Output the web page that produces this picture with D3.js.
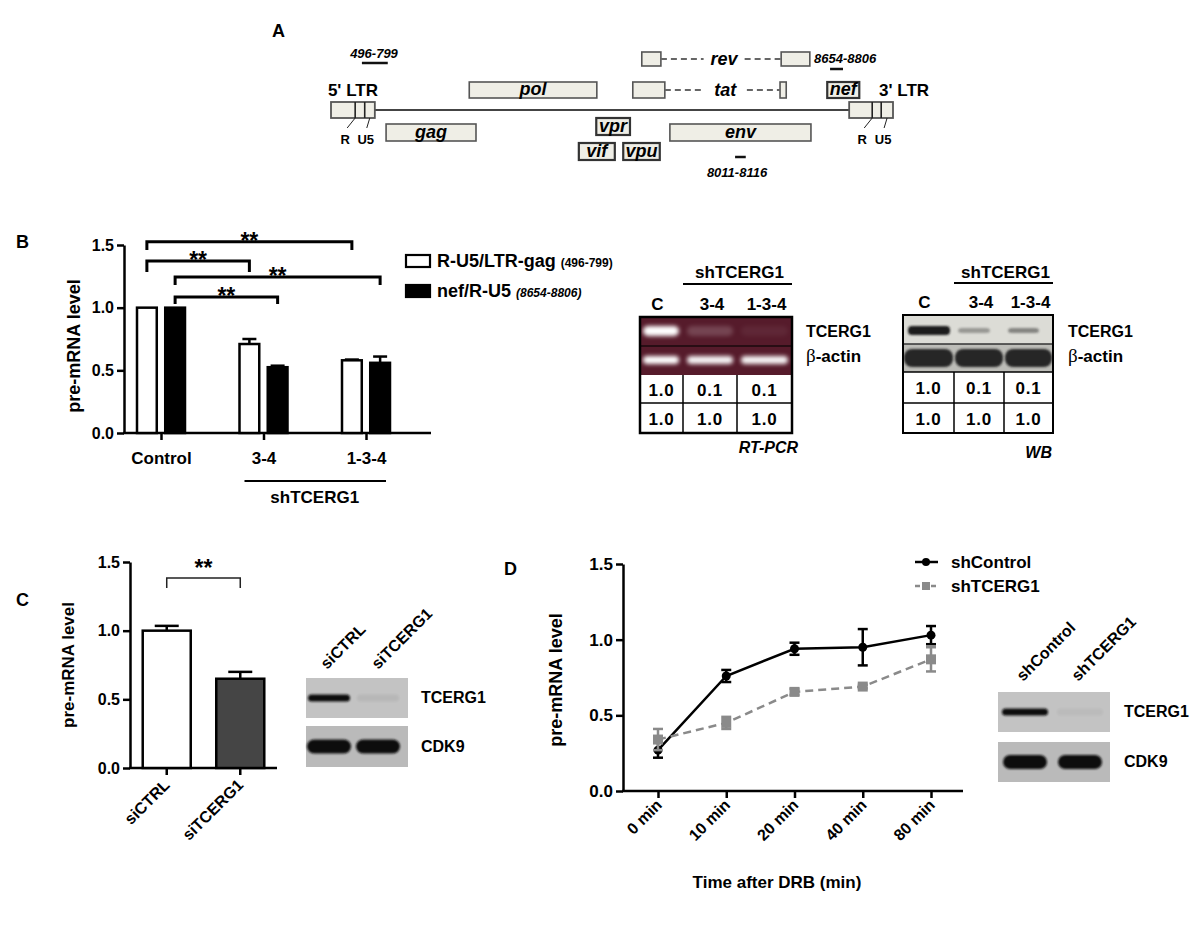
<!DOCTYPE html>
<html><head><meta charset="utf-8">
<script src="https://cdnjs.cloudflare.com/ajax/libs/d3/7.8.5/d3.min.js"></script>
<style>
body{margin:0;background:#fff}
svg{font-family:"Liberation Sans",Arial,Helvetica,sans-serif;font-weight:bold}
</style></head><body>
<svg id="fig" width="1200" height="925"></svg>
<script>
// ================= DATA =================
// Panel A: HIV genome map (schematic units 0-100)
const ltrStart = [0, 92.2], ltrEnd = [7.8, 100], ltrDiv = [[4.3, 6.0], [96.3, 97.9]];
const ltrNames = ["5' LTR", "3' LTR"];
const geneNames = ["gag", "pol", "vif", "vpr", "vpu", "env", "nef"];
const geneStart = [9.8, 24.6, 44.1, 47.2, 52.0, 60.3, 88.3];
const geneEnd   = [25.8, 47.3, 50.5, 53.2, 58.5, 85.4, 94.0];
const geneRows  = ["lower", "upper", "bottom", "vpr", "bottom", "lower", "upper"];
const splicedNames = ["rev", "tat"];
const splicedExons = [[[55.3, 58.7], [80.1, 85.2]], [[53.7, 59.4], [79.9, 81.0]]];
const splicedGap = [[66.3, 73.6], [66.3, 74.0]];
const probeLabels = ["496-799", "8654-8806", "8011-8116"];
const probeStart = [5.5, 88.8, 71.9];
const probeEnd = [10.1, 91.1, 73.8];

// Panel B: bar chart
const bCats = ["Control", "3-4", "1-3-4"];
const bSeries = ["R-U5/LTR-gag", "nef/R-U5"];
const bGag = [1.0, 0.71, 0.58], bGagErr = [0.0, 0.04, 0.006];
const bNef = [1.0, 0.525, 0.56], bNefErr = [0.0, 0.012, 0.05];
const yTicks = [0, 0.5, 1.0, 1.5];
// significance brackets: [catA, seriesA, catB, seriesB, top, leg]
const bSig = [[0, 0, 2, 0, 1.525, 1.46], [0, 0, 1, 0, 1.372, 1.285], [0, 1, 2, 1, 1.245, 1.18], [0, 1, 1, 1, 1.085, 1.03]];

// Panel B: RT-PCR and WB
const laneLabels = ["C", "3-4", "1-3-4"];
const rtTable = [["1.0", "0.1", "0.1"], ["1.0", "1.0", "1.0"]];
const wbTable = [["1.0", "0.1", "0.1"], ["1.0", "1.0", "1.0"]];
const rtTopBand = [1.0, 0.18, 0.05], rtBotBand = [1.0, 0.95, 0.95];
const wbTopBand = [1.0, 0.35, 0.45], wbBotBand = [1.0, 1.0, 1.0];

// Panel C
const cCats = ["siCTRL", "siTCERG1"];
const cVals = [1.0, 0.65], cErr = [0.035, 0.05];
const cBlotTop = [1.0, 0.06], cBlotBot = [1.0, 1.0];

// Panel D
const dTimes = ["0 min", "10 min", "20 min", "40 min", "80 min"];
const dCtrl = [0.27, 0.76, 0.94, 0.95, 1.03], dCtrlErr = [0.05, 0.04, 0.04, 0.12, 0.06];
const dTc = [0.34, 0.45, 0.655, 0.69, 0.87], dTcErr = [0.07, 0.04, 0.02, 0.012, 0.08];
const dLanes = ["shControl", "shTCERG1"];
const dBlotTop = [1.0, 0.04], dBlotBot = [1.0, 1.0];

// ================= DRAW =================
const svg = d3.select("#fig");
const defs = svg.append("defs");
function blurF(id, s) {
  defs.append("filter").attr("id", id).attr("x", "-50%").attr("y", "-200%").attr("width", "200%").attr("height", "500%")
    .append("feGaussianBlur").attr("stdDeviation", s);
}
blurF("blur2", 2); blurF("blur1", 1.2); blurF("blur3", 3);

function text(g, x, y, s, size, opts = {}) {
  const t = g.append("text").attr("x", x).attr("y", y).attr("font-size", size).text(s);
  if (opts.anchor) t.attr("text-anchor", opts.anchor);
  if (opts.italic) t.attr("font-style", "italic");
  if (opts.fill) t.attr("fill", opts.fill);
  if (opts.transform) t.attr("transform", opts.transform);
  return t;
}

// panel letters
text(svg, 272, 37, "A", 18);
text(svg, 16, 248, "B", 18);
text(svg, 16, 606, "C", 18);
text(svg, 504, 575, "D", 18);

// ---------- Panel A ----------
const gA = svg.append("g");
const mx = d3.scaleLinear().domain([0, 100]).range([331, 893]);
const rowY = { rev: [52, 66], upper: [82, 98], ltr: [102, 118], lower: [124, 141], vpr: [118, 135], bottom: [143, 160] };
const boxFill = "#efeee6", boxStroke = "#555";
// backbone
gA.append("line").attr("x1", mx(ltrEnd[0])).attr("x2", mx(ltrStart[1])).attr("y1", 110).attr("y2", 110)
  .attr("stroke", "#444").attr("stroke-width", 2);
// LTRs
ltrNames.forEach((n, i) => {
  gA.append("rect").attr("x", mx(ltrStart[i])).attr("y", rowY.ltr[0]).attr("width", mx(ltrEnd[i]) - mx(ltrStart[i]))
    .attr("height", rowY.ltr[1] - rowY.ltr[0]).attr("fill", boxFill).attr("stroke", boxStroke).attr("stroke-width", 1.8);
  ltrDiv[i].forEach(d => gA.append("line").attr("x1", mx(d)).attr("x2", mx(d)).attr("y1", rowY.ltr[0]).attr("y2", rowY.ltr[1])
    .attr("stroke", "#222").attr("stroke-width", 1.6));
  text(gA, (mx(ltrStart[i]) + mx(ltrEnd[i])) / 2 + (i === 0 ? 0 : 33), 96, n, 17, { anchor: "middle" });
  // R U5 pointers
  const d0 = mx(ltrDiv[i][0]), d1 = (mx(ltrDiv[i][1]) + mx(ltrEnd[i])) / 2;
  gA.append("line").attr("x1", d0).attr("y1", 118).attr("x2", d0 - 8).attr("y2", 128).attr("stroke", "#222").attr("stroke-width", 1);
  gA.append("line").attr("x1", d1).attr("y1", 118).attr("x2", d1 - 3).attr("y2", 128).attr("stroke", "#222").attr("stroke-width", 1);
  text(gA, d0 - 10, 144, "R", 13, { anchor: "middle" });
  text(gA, d1 - 4, 144, "U5", 13, { anchor: "middle" });
});
// genes
geneNames.forEach((n, i) => {
  const r = rowY[geneRows[i]];
  const small = (mx(geneEnd[i]) - mx(geneStart[i])) < 45;
  gA.append("rect").attr("x", mx(geneStart[i])).attr("y", r[0]).attr("width", mx(geneEnd[i]) - mx(geneStart[i]))
    .attr("height", r[1] - r[0]).attr("fill", boxFill).attr("stroke", small ? "#333" : boxStroke).attr("stroke-width", small ? 2.2 : 1.6);
  text(gA, (mx(geneStart[i]) + mx(geneEnd[i])) / 2, r[1] - 3, n, 18, { anchor: "middle", italic: true });
});
// spliced genes
splicedNames.forEach((n, i) => {
  const r = i === 0 ? rowY.rev : rowY.upper;
  const ym = (r[0] + r[1]) / 2;
  const ex = splicedExons[i];
  ex.forEach(e => gA.append("rect").attr("x", mx(e[0])).attr("y", r[0]).attr("width", mx(e[1]) - mx(e[0]))
    .attr("height", r[1] - r[0]).attr("fill", boxFill).attr("stroke", boxStroke).attr("stroke-width", 1.6));
  const gp = splicedGap[i];
  [[ex[0][1], gp[0]], [gp[1], ex[1][0]]].forEach(s => gA.append("line").attr("x1", mx(s[0])).attr("x2", mx(s[1]))
    .attr("y1", ym).attr("y2", ym).attr("stroke", "#666").attr("stroke-width", 2).attr("stroke-dasharray", "6,4"));
  text(gA, (mx(gp[0]) + mx(gp[1])) / 2, ym + 6, n, 18, { anchor: "middle", italic: true });
});
// probes
const probeY = [63, 69, 157];
const probeTextPos = [[374, 58, "middle"], [814, 63, "start"], [737, 177, "middle"]];
probeLabels.forEach((p, i) => {
  gA.append("line").attr("x1", mx(probeStart[i])).attr("x2", mx(probeEnd[i])).attr("y1", probeY[i]).attr("y2", probeY[i])
    .attr("stroke", "#111").attr("stroke-width", 2.5);
  text(gA, probeTextPos[i][0], probeTextPos[i][1], p, 13, { anchor: probeTextPos[i][2], italic: true });
});

// ---------- Panel B bar chart ----------
const gB = svg.append("g");
const yB = d3.scaleLinear().domain([0, 1.5]).range([433, 245]);
const xB = d3.scalePoint().domain(bCats).range([161, 366]);
const xBs = d3.scaleBand().domain(bSeries).range([-24, 24]).paddingInner(0.3);
function styleAxis(a, size) {
  a.select(".domain").attr("stroke-width", 2.5).attr("stroke", "#000");
  a.selectAll(".tick line").attr("stroke-width", 2.5).attr("stroke", "#000");
  a.selectAll(".tick text").attr("font-size", size).attr("font-family", "Liberation Sans, Arial, sans-serif")
    .attr("font-weight", "bold").attr("fill", "#000");
}
const ayB = gB.append("g").attr("transform", "translate(124,0)")
  .call(d3.axisLeft(yB).tickValues(yTicks).tickFormat(d3.format(".1f")).tickSize(7).tickPadding(3).tickSizeOuter(0));
styleAxis(ayB, 16);
const axB = gB.append("g").attr("transform", "translate(0,433)").call(d3.axisBottom(xB).tickSize(7).tickPadding(12).tickSizeOuter(0));
axB.select(".domain").remove();
styleAxis(axB, 17);
gB.append("line").attr("x1", 123).attr("x2", 431).attr("y1", 433).attr("y2", 433).attr("stroke", "#000").attr("stroke-width", 2.5);
const bData = [bGag, bNef], bErr = [bGagErr, bNefErr];
bSeries.forEach((s, si) => {
  bCats.forEach((c, ci) => {
    const x = xB(c) + xBs(s), w = xBs.bandwidth(), v = bData[si][ci], e = bErr[si][ci];
    if (e > 0) {
      const cx = x + w / 2;
      gB.append("line").attr("x1", cx).attr("x2", cx).attr("y1", yB(v)).attr("y2", yB(v + e)).attr("stroke", "#000").attr("stroke-width", 2.5);
      gB.append("line").attr("x1", cx - 7).attr("x2", cx + 7).attr("y1", yB(v + e)).attr("y2", yB(v + e)).attr("stroke", "#000").attr("stroke-width", 2.5);
    }
    gB.append("rect").attr("x", x).attr("y", yB(v)).attr("width", w).attr("height", yB(0) - yB(v))
      .attr("fill", si === 0 ? "#fff" : "#000").attr("stroke", "#000").attr("stroke-width", 2.5);
  });
});
bSig.forEach(b => {
  const xa = xB(bCats[b[0]]) + xBs(bSeries[b[1]]) + xBs.bandwidth() / 2;
  const xb = xB(bCats[b[2]]) + xBs(bSeries[b[3]]) + xBs.bandwidth() / 2;
  gB.append("path").attr("d", `M${xa},${yB(b[5])}V${yB(b[4])}H${xb}V${yB(b[5])}`)
    .attr("fill", "none").attr("stroke", "#000").attr("stroke-width", 3);
  text(gB, (xa + xb) / 2, yB(b[4]) + 7, "**", 23, { anchor: "middle" });
});
text(gB, 80, 346, "pre-mRNA level", 18, { anchor: "middle", transform: "rotate(-90,80,346)" });
gB.append("line").attr("x1", xB(bCats[1]) - 19).attr("x2", xB(bCats[2]) + 20).attr("y1", 481).attr("y2", 481).attr("stroke", "#000").attr("stroke-width", 2);
text(gB, (xB(bCats[1]) + xB(bCats[2])) / 2, 503, "shTCERG1", 17, { anchor: "middle" });
// legend
bSeries.forEach((s, i) => {
  const y = 255 + i * 30;
  gB.append("rect").attr("x", 406).attr("y", y).attr("width", 24).attr("height", 12)
    .attr("fill", i === 0 ? "#fff" : "#000").attr("stroke", "#000").attr("stroke-width", 2.2);
  const t = gB.append("text").attr("x", 437).attr("y", y + 12).attr("font-size", 18);
  t.append("tspan").text(s + " ");
  t.append("tspan").attr("font-size", 12).attr("font-style", i === 0 ? "normal" : "italic").text(i === 0 ? "(496-799)" : "(8654-8806)");
});

// ---------- Panel B: RT-PCR gel + WB ----------
function drawTable(g, cols, rows, vals) {
  vals.forEach((r, ri) => r.forEach((v, ci) => {
    text(g, (cols[ci] + cols[ci + 1]) / 2, (rows[ri] + rows[ri + 1]) / 2 + 6.5, v, 17, { anchor: "middle" }).attr("letter-spacing", 0.8);
  }));
  for (let i = 1; i < cols.length - 1; i++)
    g.append("line").attr("x1", cols[i]).attr("x2", cols[i]).attr("y1", rows[0]).attr("y2", rows[rows.length - 1]).attr("stroke", "#000").attr("stroke-width", 1.5);
  for (let i = 1; i < rows.length - 1; i++)
    g.append("line").attr("x1", cols[0]).attr("x2", cols[cols.length - 1]).attr("y1", rows[i]).attr("y2", rows[i]).attr("stroke", "#000").attr("stroke-width", 1.5);
}
function laneHeader(g, cols, yLab, yLine, yTitle) {
  laneLabels.forEach((l, i) => text(g, (cols[i] + cols[i + 1]) / 2 + (i === 0 ? -4 : 2), yLab, l, 17, { anchor: "middle" }));
  g.append("line").attr("x1", cols[1]).attr("x2", cols[3]).attr("y1", yLine).attr("y2", yLine).attr("stroke", "#000").attr("stroke-width", 2);
  text(g, (cols[1] + cols[3]) / 2 + 2, yTitle, "shTCERG1", 17, { anchor: "middle" });
}
function actinLabel(g, x, y) {
  const t = g.append("text").attr("x", x).attr("y", y).attr("font-size", 17);
  t.append("tspan").attr("font-family", "Liberation Serif, serif").attr("font-weight", "normal").attr("font-size", 19).text("β");
  t.append("tspan").text("-actin");
}
// RT-PCR
const gR = svg.append("g");
const rtCols = [640, 683, 737, 792], rtRows = [317, 346, 375, 403, 433];
gR.append("rect").attr("x", rtCols[0]).attr("y", rtRows[0]).attr("width", rtCols[3] - rtCols[0]).attr("height", rtRows[2] - rtRows[0]).attr("fill", "#561b2b");
[rtTopBand, rtBotBand].forEach((bands, ri) => bands.forEach((v, i) => {
  const a = rtCols[i] + (i === 0 ? 3 : 4), b = rtCols[i + 1] - 4;
  const yc = ri === 0 ? 331 : 360, h = ri === 0 ? 10 : 8;
  gR.append("rect").attr("x", a).attr("y", yc - h / 2).attr("width", b - a).attr("height", h).attr("rx", h / 2)
    .attr("fill", "#fff").attr("opacity", v).attr("filter", "url(#blur2)");
}));
gR.append("line").attr("x1", rtCols[0]).attr("x2", rtCols[3]).attr("y1", 346).attr("y2", 346).attr("stroke", "#1a0a0e").attr("stroke-width", 1.5);
drawTable(gR, rtCols, rtRows.slice(2), rtTable);
gR.append("rect").attr("x", rtCols[0]).attr("y", rtRows[0]).attr("width", rtCols[3] - rtCols[0]).attr("height", rtRows[4] - rtRows[0])
  .attr("fill", "none").attr("stroke", "#000").attr("stroke-width", 2.5);
laneHeader(gR, rtCols, 310, 284, 278);
text(gR, 806, 337, "TCERG1", 16);
actinLabel(gR, 806, 362);
text(gR, 798, 453, "RT-PCR", 16, { anchor: "end", italic: true });
// WB
const gW = svg.append("g");
const wbCols = [903, 954, 1004, 1053], wbRows = [315, 344, 372, 403, 433];
gW.append("rect").attr("x", wbCols[0]).attr("y", wbRows[0]).attr("width", wbCols[3] - wbCols[0]).attr("height", 29).attr("fill", "#dcdcd6");
gW.append("rect").attr("x", wbCols[0]).attr("y", wbRows[1]).attr("width", wbCols[3] - wbCols[0]).attr("height", 28).attr("fill", "#bdbdb8");
wbTopBand.forEach((v, i) => {
  const a = wbCols[i] + (i === 0 ? 5 : 4), b = i === 0 ? wbCols[1] - 4 : wbCols[i + 1] - 14;
  gW.append("rect").attr("x", a).attr("y", 326 + (i ? 2 : 0)).attr("width", b - a).attr("height", i ? 5 : 9).attr("rx", 4)
    .attr("fill", "#1a1a1a").attr("opacity", v).attr("filter", "url(#blur1)");
});
wbBotBand.forEach((v, i) => {
  const a = wbCols[i] + 1, b = wbCols[i + 1] - 1;
  gW.append("rect").attr("x", a).attr("y", 349).attr("width", b - a).attr("height", 18).attr("rx", 8)
    .attr("fill", "#262626").attr("opacity", v).attr("filter", "url(#blur1)");
});
gW.append("line").attr("x1", wbCols[0]).attr("x2", wbCols[3]).attr("y1", 344).attr("y2", 344).attr("stroke", "#333").attr("stroke-width", 1.5);
gW.append("line").attr("x1", wbCols[0]).attr("x2", wbCols[3]).attr("y1", 372).attr("y2", 372).attr("stroke", "#000").attr("stroke-width", 1.5);
drawTable(gW, wbCols, wbRows.slice(2), wbTable);
gW.append("rect").attr("x", wbCols[0]).attr("y", wbRows[0]).attr("width", wbCols[3] - wbCols[0]).attr("height", wbRows[4] - wbRows[0])
  .attr("fill", "none").attr("stroke", "#000").attr("stroke-width", 2);
laneHeader(gW, wbCols, 308, 283, 278);
text(gW, 1068, 337, "TCERG1", 16);
actinLabel(gW, 1068, 362);
text(gW, 1052, 458, "WB", 16, { anchor: "end", italic: true });

// ---------- Panel C ----------
const gC = svg.append("g");
const yC = d3.scaleLinear().domain([0, 1.5]).range([768, 562]);
const xC = d3.scaleBand().domain(cCats).range([130, 277]).paddingInner(0.347).paddingOuter(0.173);
const ayC = gC.append("g").attr("transform", "translate(130,0)")
  .call(d3.axisLeft(yC).tickValues(yTicks).tickFormat(d3.format(".1f")).tickSize(7).tickPadding(3).tickSizeOuter(0));
styleAxis(ayC, 16);
const axC = gC.append("g").attr("transform", "translate(0,768)").call(d3.axisBottom(xC).tickSize(7).tickFormat(""));
axC.select(".domain").remove();
styleAxis(axC, 16);
gC.append("line").attr("x1", 129).attr("x2", 277).attr("y1", 768).attr("y2", 768).attr("stroke", "#000").attr("stroke-width", 2.5);
cCats.forEach((c, i) => {
  const x = xC(c), w = xC.bandwidth(), cx = x + w / 2, v = cVals[i], e = cErr[i];
  gC.append("line").attr("x1", cx).attr("x2", cx).attr("y1", yC(v)).attr("y2", yC(v + e)).attr("stroke", "#000").attr("stroke-width", 2.5);
  gC.append("line").attr("x1", cx - 12).attr("x2", cx + 12).attr("y1", yC(v + e)).attr("y2", yC(v + e)).attr("stroke", "#000").attr("stroke-width", 2.5);
  gC.append("rect").attr("x", x).attr("y", yC(v)).attr("width", w).attr("height", yC(0) - yC(v))
    .attr("fill", i === 0 ? "#fff" : "#454545").attr("stroke", "#000").attr("stroke-width", 2.5);
  text(gC, cx + 4, 786, c, 16, { anchor: "end", transform: `rotate(-45,${cx + 4},786)` });
});
{
  const xa = xC(cCats[0]) + xC.bandwidth() / 2, xb = xC(cCats[1]) + xC.bandwidth() / 2;
  gC.append("path").attr("d", `M${xa},${yC(1.31)}V${yC(1.383)}H${xb}V${yC(1.31)}`).attr("fill", "none").attr("stroke", "#222").attr("stroke-width", 1.5);
  text(gC, (xa + xb) / 2, 576, "**", 23, { anchor: "middle" });
}
text(gC, 74, 665, "pre-mRNA level", 17, { anchor: "middle", transform: "rotate(-90,74,665)" });
// C blot
function smallBlot(g, x0, x1, yRows, lanesX, top, bot, topW) {
  yRows.forEach((r, ri) => {
    g.append("rect").attr("x", x0).attr("y", r[0]).attr("width", x1 - x0).attr("height", r[1] - r[0]).attr("fill", ri === 0 ? "#c3c3c3" : "#bababa");
    const vals = ri === 0 ? top : bot;
    vals.forEach((v, i) => {
      const w = ri === 0 ? topW : 44, h = ri === 0 ? 7 : 14, cy = (r[0] + r[1]) / 2;
      g.append("rect").attr("x", lanesX[i] - w / 2).attr("y", cy - h / 2).attr("width", w).attr("height", h).attr("rx", h / 2)
        .attr("fill", "#111").attr("opacity", v).attr("filter", "url(#blur1)");
    });
  });
}
smallBlot(gC, 306, 408, [[678, 718], [726, 767]], [329, 378], cBlotTop, cBlotBot, 42);
cCats.forEach((c, i) => {
  const x = [327, 378][i];
  text(gC, x, 670, c, 16, { transform: `rotate(-45,${x},670)` });
});
text(gC, 421, 703, "TCERG1", 16);
text(gC, 421, 752, "CDK9", 16);

// ---------- Panel D ----------
const gD = svg.append("g");
const yD = d3.scaleLinear().domain([0, 1.5]).range([791, 564]);
const xD = d3.scalePoint().domain(dTimes).range([658, 931]);
const ayD = gD.append("g").attr("transform", "translate(623,0)")
  .call(d3.axisLeft(yD).tickValues(yTicks).tickFormat(d3.format(".1f")).tickSize(7).tickPadding(3).tickSizeOuter(0));
styleAxis(ayD, 17);
const axD = gD.append("g").attr("transform", "translate(0,791)").call(d3.axisBottom(xD).tickSize(7).tickFormat(""));
axD.select(".domain").remove();
styleAxis(axD, 16);
gD.append("line").attr("x1", 622).attr("x2", 963).attr("y1", 791).attr("y2", 791).attr("stroke", "#000").attr("stroke-width", 2.5);
dTimes.forEach(t => {
  const x = xD(t) + 5;
  text(gD, x, 806, t, 16, { anchor: "end", transform: `rotate(-45,${x},806)` });
});
function series(vals, errs, color, dashed, marker) {
  const line = d3.line().x((d, i) => xD(dTimes[i])).y(d => yD(d));
  gD.append("path").attr("d", line(vals)).attr("fill", "none").attr("stroke", color).attr("stroke-width", 2.5)
    .attr("stroke-dasharray", dashed ? "8,5" : null);
  vals.forEach((v, i) => {
    const x = xD(dTimes[i]);
    gD.append("line").attr("x1", x).attr("x2", x).attr("y1", yD(v - errs[i])).attr("y2", yD(v + errs[i])).attr("stroke", color).attr("stroke-width", 2.5);
    [v - errs[i], v + errs[i]].forEach(e => gD.append("line").attr("x1", x - 5).attr("x2", x + 5).attr("y1", yD(e)).attr("y2", yD(e)).attr("stroke", color).attr("stroke-width", 2.5));
    if (marker === "circle") gD.append("circle").attr("cx", x).attr("cy", yD(v)).attr("r", 4.5).attr("fill", color);
    else gD.append("rect").attr("x", x - 5).attr("y", yD(v) - 5).attr("width", 10).attr("height", 10).attr("fill", color);
  });
}
series(dCtrl, dCtrlErr, "#000", false, "circle");
series(dTc, dTcErr, "#8a8a8a", true, "square");
// legend
[["shControl", "#000", false, "circle"], ["shTCERG1", "#8a8a8a", true, "square"]].forEach((s, i) => {
  const y = 562 + i * 24;
  gD.append("line").attr("x1", 915).attr("x2", 938).attr("y1", y).attr("y2", y).attr("stroke", s[1]).attr("stroke-width", 2.5)
    .attr("stroke-dasharray", s[2] ? "5,3" : null);
  if (s[3] === "circle") gD.append("circle").attr("cx", 926).attr("cy", y).attr("r", 4).attr("fill", s[1]);
  else gD.append("rect").attr("x", 922).attr("y", y - 4).attr("width", 8).attr("height", 8).attr("fill", s[1]);
  text(gD, 951, y + 6, s[0], 17);
});
text(gD, 777, 888, "Time after DRB (min)", 17, { anchor: "middle" });
text(gD, 562, 680, "pre-mRNA level", 18, { anchor: "middle", transform: "rotate(-90,562,680)" });
// D blot
smallBlot(gD, 998, 1110, [[692, 732], [742, 782]], [1025, 1080], dBlotTop, dBlotBot, 46);
dLanes.forEach((c, i) => {
  const x = [1023, 1078][i];
  text(gD, x, 682, c, 16, { transform: `rotate(-45,${x},682)` });
});
text(gD, 1124, 717, "TCERG1", 16);
text(gD, 1124, 767, "CDK9", 16);
</script>
</body></html>
